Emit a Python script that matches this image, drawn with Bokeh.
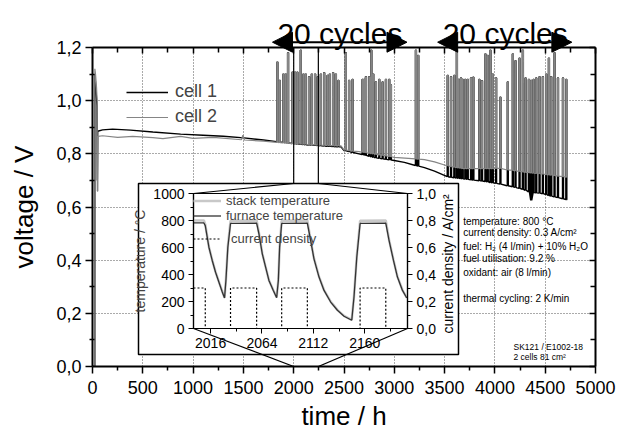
import math
from bokeh.plotting import figure
from bokeh.models import (Range1d, LinearAxis, FixedTicker, CustomJSTickFormatter, Legend, LegendItem,
                          Label, Arrow, NormalHead)
from bokeh.embed import file_html
from bokeh.resources import INLINE

FONT = "Liberation Sans"

# ---------------- main data (time in h, voltage in V) ----------------
cell1_base_t = [0, 23, 23.5, 35, 45, 48, 52, 100, 200, 378, 600, 876, 1100, 1300, 1505, 1700, 1830,
                1990, 2200, 2470, 2500, 2650, 2800, 3000, 3100, 3216, 3300, 3400, 3515, 3680, 3942,
                4111, 4220, 4340, 4440, 4542, 4720]
cell1_base_v = [0, 0, 1.10, 1.04, 0.98, 0.70, 0.885, 0.890, 0.893, 0.889, 0.882, 0.874, 0.870, 0.866,
                0.860, 0.852, 0.846, 0.838, 0.832, 0.826, 0.812, 0.800, 0.787, 0.775, 0.768, 0.756,
                0.748, 0.735, 0.716, 0.706, 0.693, 0.681, 0.672, 0.655, 0.652, 0.643, 0.627]
cell2_base_t = [0, 23, 23.5, 30, 40, 46, 48, 53, 56, 100, 250, 400, 600, 700, 876, 1000, 1200, 1480,
                1495, 1510, 1700, 1830, 1990, 2200, 2470, 2500, 2650, 2800, 3000, 3216, 3300, 3400,
                3515, 3680, 3942, 4050, 4111, 4300, 4440, 4720]
cell2_base_v = [0, 0, 1.12, 1.10, 1.05, 1.00, 0.66, 0.66, 0.866, 0.868, 0.862, 0.866, 0.861, 0.857,
                0.866, 0.858, 0.862, 0.853, 0.870, 0.852, 0.848, 0.843, 0.838, 0.834, 0.830, 0.815,
                0.808, 0.800, 0.787, 0.781, 0.778, 0.770, 0.756, 0.744, 0.744, 0.745, 0.740, 0.730,
                0.725, 0.712]

# voltage spikes during the thermal cycles (open circuit)
spike_t = [1838, 1861, 1898, 1921, 1944, 1988, 2014, 2037, 2070, 2097, 2120, 2153, 2180, 2213, 2240,
           2270, 2303, 2336, 2359, 2392, 2419, 2445, 2518, 2551, 2585,
           2684, 2701, 2718, 2751, 2772, 2791, 2817, 2851, 2884, 2917, 2950, 2966, 3215, 3238,
           3531, 3564, 3597, 3622, 3640, 3663, 3680, 3706, 3730, 3763, 3786, 3846, 3872, 3906, 3929,
           3956, 3979, 4012, 4055, 4128, 4178, 4205, 4245, 4278, 4305, 4338, 4361, 4385, 4411, 4444,
           4477, 4510, 4537, 4560, 4593, 4627, 4677, 4710]
spike_peak = [1.145, 1.076, 1.10, 1.10, 1.18, 1.107, 1.107, 1.107, 1.19, 1.10, 1.10, 1.09, 1.10, 1.10,
              1.09, 1.10, 1.105, 1.095, 1.10, 1.105, 1.10, 1.076, 1.18, 1.076, 1.08,
              1.08, 1.08, 1.09, 1.09, 1.19, 1.10, 1.07, 1.08, 1.07, 1.08, 1.08, 1.06, 1.19, 1.17,
              1.095, 1.09, 1.095, 1.19, 1.08, 1.085, 1.08, 1.08, 1.08, 1.085, 1.088, 1.08, 1.075,
              1.176, 1.17, 1.19, 1.10, 1.085, 1.013, 1.07, 1.176, 1.15, 1.16, 1.19, 1.085, 1.08,
              1.076, 1.08, 1.085, 1.09, 1.09, 1.10, 1.16, 1.09, 1.18, 1.085, 1.085, 1.08]
spike_base1 = [0.846, 0.845, 0.843, 0.842, 0.841, 0.839, 0.838, 0.837, 0.836, 0.835, 0.834, 0.833,
               0.833, 0.832, 0.831, 0.830, 0.829, 0.828, 0.828, 0.827, 0.826, 0.826, 0.811, 0.808, 0.805,
               0.797, 0.796, 0.794, 0.791, 0.789, 0.787, 0.785, 0.783, 0.781, 0.779, 0.778, 0.777,
               0.756, 0.754,
               0.714, 0.712, 0.710, 0.709, 0.708, 0.707, 0.706, 0.705, 0.704, 0.702, 0.701, 0.699,
               0.698, 0.696, 0.695, 0.692, 0.691, 0.689, 0.686, 0.680, 0.676, 0.674, 0.670, 0.666,
               0.663, 0.657, 0.625, 0.654, 0.653, 0.652, 0.650, 0.647, 0.643, 0.641, 0.638, 0.635,
               0.631, 0.628]
spike_base2 = [0.843, 0.842, 0.841, 0.840, 0.840, 0.838, 0.838, 0.837, 0.837, 0.836, 0.836, 0.835,
               0.834, 0.834, 0.833, 0.833, 0.832, 0.832, 0.831, 0.831, 0.830, 0.830, 0.814, 0.812, 0.810,
               0.806, 0.805, 0.804, 0.802, 0.801, 0.800, 0.798, 0.796, 0.794, 0.792, 0.790, 0.789,
               0.781, 0.780,
               0.755, 0.752, 0.750, 0.748, 0.747, 0.746, 0.744, 0.744, 0.744, 0.744, 0.744, 0.744,
               0.744, 0.744, 0.744, 0.744, 0.744, 0.745, 0.745, 0.740, 0.738, 0.736, 0.734, 0.732,
               0.730, 0.729, 0.728, 0.727, 0.726, 0.725, 0.724, 0.722, 0.721, 0.720, 0.718, 0.716,
               0.714, 0.712]

x_ticks = [0, 500, 1000, 1500, 2000, 2500, 3000, 3500, 4000, 4500, 5000]
x_minor = [250, 750, 1250, 1750, 2250, 2750, 3250, 3750, 4250, 4750]
y_ticks = [0.0, 0.2, 0.4, 0.6, 0.8, 1.0, 1.2]
y_minor = [0.1, 0.3, 0.5, 0.7, 0.9, 1.1]

cycle_label = "20 cycles"
cycle_arrows = [(1789, 3126), (3431, 4765)]
cycle_text_x = [1838, 3481]
zoom_window = [2000, 2245]

info_lines = ["temperature:  800 °C", "current density:  0.3 A/cm²", "fuel:  H₂ (4 l/min) + 10% H₂O",
              "fuel utilisation:  9.2 %", "oxidant: air (8 l/min)", "thermal cycling: 2 K/min"]
sample_lines = ["SK121 / E1002-18", "2 cells  81 cm²"]

# ---------------- inset data ----------------
ins_t = [2000, 2009.7, 2011, 2014.4, 2017.5, 2020.6, 2023.7, 2026.9, 2029, 2030.3, 2032.1, 2034.6, 2059,
         2061.2, 2064.3, 2067.4, 2070.5, 2074.6, 2077.7, 2079.3, 2080.5, 2082.4, 2106.4, 2108.9, 2112.6,
         2117.3, 2122, 2128.2, 2134.5, 2140.7, 2147.9, 2150, 2152.6, 2155.7, 2179.7, 2182.8, 2186.9,
         2190.6, 2195.3, 2199.3]
furnace_T = [782, 782, 762, 602, 504, 417, 344, 270, 226, 356, 602, 778, 780, 700, 553, 454, 356, 282,
             228, 356, 602, 778, 780, 676, 516, 381, 282, 196, 135, 91, 61, 233, 528, 778, 780, 651, 504,
             381, 282, 226]
stack_T = [800, 800, 770, 605, 506, 420, 347, 273, 229, 360, 610, 798, 800, 705, 556, 456, 358, 284,
           231, 360, 610, 798, 800, 680, 519, 384, 285, 199, 138, 94, 64, 238, 535, 798, 800, 655, 507,
           384, 285, 229]
cd_t = [2000, 2011, 2011, 2034.6, 2034.6, 2059, 2059, 2082.4, 2082.4, 2106.4, 2106.4, 2155.7, 2155.7,
        2179.7, 2179.7, 2200]
cd_v = [0.3, 0.3, 0, 0, 0.3, 0.3, 0, 0, 0.3, 0.3, 0, 0, 0.3, 0.3, 0, 0]
ins_x_ticks = [2016, 2064, 2112, 2160]
ins_x_minor = [2040, 2088, 2136, 2184]
ins_y_ticks = [0, 200, 400, 600, 800, 1000]
ins_y_minor = [100, 300, 500, 700, 900]
ins_cd_ticks = [0.0, 0.2, 0.4, 0.6, 0.8, 1.0]
ins_cd_minor = [0.1, 0.3, 0.5, 0.7, 0.9]

SPIKE_HALF = 5  # drawing half-width of a spike, h


def build(bt, bv, st, pk, bs):
    pts = []
    for t, v in zip(bt, bv):
        if any(abs(t - s) <= SPIKE_HALF for s in st):
            continue
        pts.append((t, 0, v))
    for s, k, c in zip(st, pk, bs):
        pts += [(s - SPIKE_HALF, 1, c), (s - SPIKE_HALF, 2, k), (s + SPIKE_HALF, 3, k), (s + SPIKE_HALF, 4, c)]
    pts.sort(key=lambda q: (q[0], q[1]))
    return [q[0] for q in pts], [q[2] for q in pts]


# ---------------- layout (canvas px) ----------------
W, H = 632, 437
FL, FT, FW, FH = 92, 47, 503, 319
XMAX, YMAX = 5000, 1.2
STACK = {"position": "absolute", "top": "0px", "left": "0px"}


def mx(px):
    return (px - FL) / FW * XMAX


def my(py):
    return (FT + FH - py) / FH * YMAX


comma = CustomJSTickFormatter(code="return tick.toFixed(1).replace('.', ',');")
blank = CustomJSTickFormatter(code="return '';")

p = figure(frame_width=FW, frame_height=FH, x_range=Range1d(0, XMAX), y_range=Range1d(0, YMAX),
           output_backend="svg", toolbar_location=None, title=None, min_border_left=FL, min_border_top=FT,
           min_border_right=W - FL - FW, min_border_bottom=H - FT - FH)
p.styles = STACK
p.outline_line_color = None

xt = FixedTicker(ticks=x_ticks, minor_ticks=x_minor)
yt = FixedTicker(ticks=y_ticks, minor_ticks=y_minor)
p.xaxis.ticker = xt
p.yaxis.ticker = yt
p.yaxis.formatter = comma
p.xgrid.ticker = FixedTicker(ticks=x_ticks[1:-1])
p.ygrid.ticker = FixedTicker(ticks=y_ticks[1:-1])
for g in (p.xgrid, p.ygrid):
    g.grid_line_color = "#555555"
    g.grid_line_dash = "1 2"
    g.grid_line_width = 1

for ax in (p.xaxis[0], p.yaxis[0]):
    ax.axis_line_width = 2
    ax.major_tick_line_width = 1.5
    ax.minor_tick_line_width = 1.5
    ax.major_tick_out = 7
    ax.major_tick_in = 0
    ax.major_label_text_font = FONT
    ax.major_label_text_font_size = "18px"
    ax.major_label_text_color = "black"
    ax.axis_label_text_font = FONT
    ax.axis_label_text_font_size = "26px"
    ax.axis_label_text_font_style = "normal"
    ax.axis_label_text_color = "black"
p.xaxis.minor_tick_out = 4
p.xaxis.minor_tick_in = 0
p.yaxis.minor_tick_out = 3
p.yaxis.minor_tick_in = 2
p.xaxis.major_label_standoff = 7
p.yaxis.major_label_standoff = 4
p.xaxis.axis_label = "time / h"
p.yaxis.axis_label = "voltage / V"
p.xaxis.axis_label_standoff = 4
p.yaxis.axis_label_standoff = 14

for side in ("above", "right"):
    ax = LinearAxis(ticker=xt if side == "above" else yt, formatter=blank)
    ax.axis_line_width = 2
    ax.major_tick_in = 6
    ax.major_tick_out = 0
    ax.minor_tick_in = 5
    ax.minor_tick_out = 0
    ax.major_tick_line_width = 1.5
    ax.minor_tick_line_width = 1.5
    ax.major_label_text_font_size = "1px"
    p.add_layout(ax, side)

t1, v1 = build(cell1_base_t, cell1_base_v, spike_t, spike_peak, spike_base1)
t2, v2 = build(cell2_base_t, cell2_base_v, spike_t, spike_peak, spike_base2)
r1 = p.line(t1, v1, line_color="black", line_width=1.4)
r2 = p.line(t2, v2, line_color="#858585", line_width=1.2)

leg = Legend(items=[LegendItem(label="cell 1", renderers=[r1]), LegendItem(label="cell 2", renderers=[r2])],
             location=(34, 239), label_text_font=FONT, label_text_font_size="18px", glyph_width=42,
             glyph_height=20, label_height=20, spacing=4, padding=0, margin=0, label_standoff=7,
             background_fill_alpha=0, border_line_alpha=0)
p.add_layout(leg)

# inset box and zoom connectors (drawn in the main plot, below the transparent inset)
BX0, BY0, BX1, BY1 = 138, 183, 458, 354
IL, IT, IW, IH = 193, 193, 214, 135
p.quad(left=mx(BX0), right=mx(BX1), bottom=my(BY1), top=my(BY0), fill_color="white",
       line_color="black", line_width=1.5)
z0, z1 = zoom_window
p.segment(x0=[z0, z1, z0, z1, mx(IL), mx(IL + IW)],
          y0=[YMAX, YMAX, my(BY0), my(BY0), my(IT + IH), my(IT + IH)],
          x1=[z0, z1, mx(IL), mx(IL + IW), z0, z1],
          y1=[my(BY0), my(BY0), my(IT), my(IT), 0, 0], line_color="black", line_width=1.2)

# info text block
info_y = [220.7, 232.3, 245.7, 258.3, 271.7, 298.3]
for txt, yy in zip(info_lines, info_y):
    p.add_layout(Label(x=mx(462.7), y=my(yy), text=txt, text_font=FONT, text_font_size="10px",
                       text_baseline="middle", text_align="left", text_color="black"))
for txt, yy in zip(sample_lines, [346, 356.7]):
    p.add_layout(Label(x=mx(513), y=my(yy), text=txt, text_font=FONT, text_font_size="8.5px",
                       text_baseline="middle", text_align="left", text_color="black"))

# ---------------- inset (same canvas size, transparent, stacked on top) ----------------
ins = figure(frame_width=IW, frame_height=IH, x_range=Range1d(2000, 2200), y_range=Range1d(0, 1000),
             output_backend="svg", toolbar_location=None, title=None, min_border_left=IL,
             min_border_right=W - IL - IW, min_border_top=IT, min_border_bottom=H - IT - IH,
             background_fill_alpha=0, border_fill_alpha=0)
ins.styles = STACK
ins.extra_y_ranges = {"cd": Range1d(0, 1)}
ins.grid.visible = False
ins.outline_line_color = "black"
ins.outline_line_width = 1.2
ins.xaxis.ticker = FixedTicker(ticks=ins_x_ticks, minor_ticks=ins_x_minor)
ins.yaxis.ticker = FixedTicker(ticks=ins_y_ticks, minor_ticks=ins_y_minor)
rax = LinearAxis(y_range_name="cd", ticker=FixedTicker(ticks=ins_cd_ticks, minor_ticks=ins_cd_minor),
                 formatter=comma)
ins.add_layout(rax, "right")
for ax in (ins.xaxis[0], ins.yaxis[0], rax):
    ax.axis_line_width = 1.2
    ax.major_tick_out = 5
    ax.major_tick_in = 0
    ax.minor_tick_out = 3
    ax.minor_tick_in = 0
    ax.major_label_text_font = FONT
    ax.major_label_text_font_size = "14px"
    ax.major_label_text_color = "black"
    ax.major_label_standoff = 4
ins.yaxis[0].axis_label = "temperature / °C"
ins.yaxis[0].axis_label_text_font = FONT
ins.yaxis[0].axis_label_text_font_size = "14px"
ins.yaxis[0].axis_label_text_font_style = "normal"
ins.yaxis[0].axis_label_standoff = 2

rs = ins.line(ins_t, stack_T, line_color="#c8c8c8", line_width=2.5)
rf = ins.line(ins_t, furnace_T, line_color="#333333", line_width=1.3)
rc = ins.line(cd_t, cd_v, y_range_name="cd", line_color="black", line_width=1.2, line_dash="2 2")

legA = Legend(items=[LegendItem(label="stack temperature", renderers=[rs]),
                     LegendItem(label="furnace temperature", renderers=[rf])],
              location=(0, 105), label_text_font=FONT, label_text_font_size="13px", glyph_width=28,
              glyph_height=15, label_height=15, spacing=0, padding=0, margin=0, label_standoff=5,
              background_fill_alpha=0, border_line_alpha=0)
legB = Legend(items=[LegendItem(label="current density", renderers=[rc])],
              location=(0, 82), label_text_font=FONT, label_text_font_size="13px", glyph_width=27,
              glyph_height=15, label_height=15, spacing=0, padding=0, margin=0, label_standoff=11,
              background_fill_alpha=0, border_line_alpha=0)
ins.add_layout(legA)
ins.add_layout(legB)

# ---------------- overlay for texts outside the frames ----------------
ov = figure(frame_width=W, frame_height=H, x_range=Range1d(mx(0), mx(W)), y_range=Range1d(my(H), my(0)),
            output_backend="svg", toolbar_location=None, title=None, x_axis_type=None, y_axis_type=None,
            min_border=0, background_fill_alpha=0, border_fill_alpha=0, outline_line_color=None)
ov.styles = STACK
ov.grid.visible = False
for (a, b), tx in zip(cycle_arrows, cycle_text_x):
    ov.add_layout(Arrow(x_start=a, y_start=my(41.7), x_end=b, y_end=my(41.7), line_width=2,
                        line_color="black",
                        start=NormalHead(size=20, fill_color="black", line_color="black"),
                        end=NormalHead(size=20, fill_color="black", line_color="black")))
    ov.add_layout(Label(x=tx, y=my(33), text=cycle_label, text_font=FONT, text_font_size="30px",
                        text_baseline="alphabetic", text_align="left", text_color="black"))
ov.add_layout(Label(x=mx(447.5), y=my(263), text="current density / A/cm²", angle=math.pi / 2,
                    text_font=FONT, text_font_size="14px", text_align="center",
                    text_baseline="middle", text_color="black"))

open("out.html", "w").write(file_html([p, ins, ov], INLINE))
